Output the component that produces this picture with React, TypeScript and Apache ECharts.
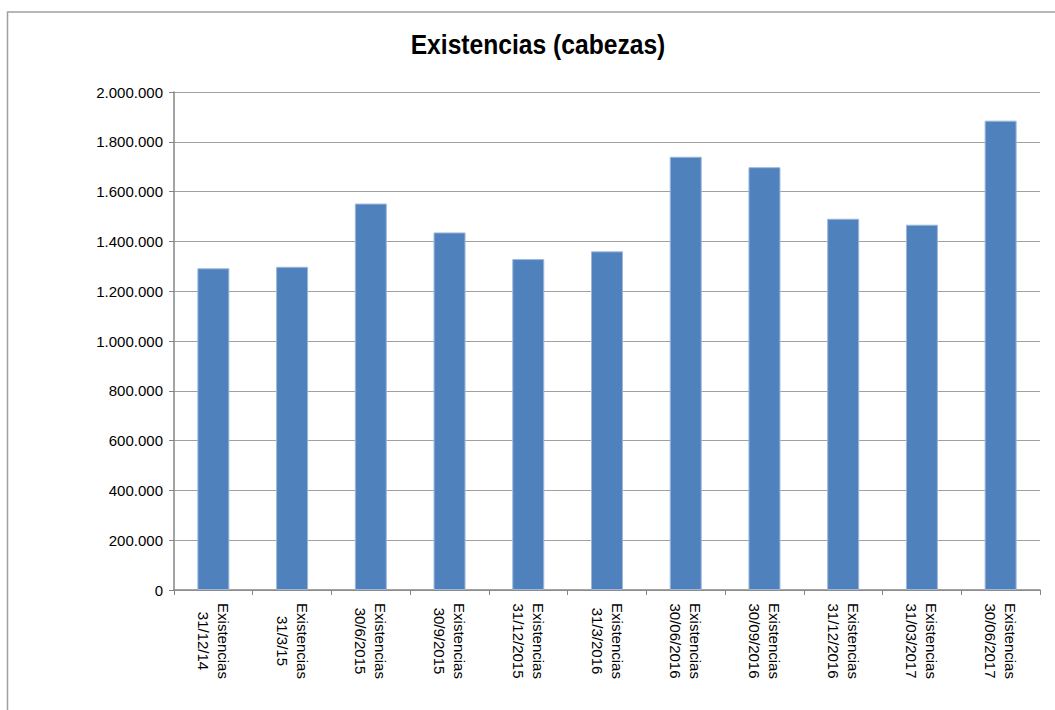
import React, { useEffect, useRef } from "react";
import * as echarts from "echarts";

const categories: string[] = [
  "Existencias\n31/12/14",
  "Existencias\n31/3/15",
  "Existencias\n30/6/2015",
  "Existencias\n30/9/2015",
  "Existencias\n31/12/2015",
  "Existencias\n31/3/2016",
  "Existencias\n30/06/2016",
  "Existencias\n30/09/2016",
  "Existencias\n31/12/2016",
  "Existencias\n31/03/2017",
  "Existencias\n30/06/2017",
];

const values: number[] = [
  1292000, 1298000, 1552000, 1436000, 1329000, 1360000, 1740000, 1698000,
  1491000, 1467000, 1885000,
];

const title = "Existencias (cabezas)";
const yMin = 0;
const yMax = 2000000;
const yStep = 200000;

const fmtThousands = (v: number): string =>
  String(Math.round(v)).replace(/\B(?=(\d{3})+(?!\d))/g, ".");

export default function App() {
  const ref = useRef<HTMLDivElement>(null);

  useEffect(() => {
    if (!ref.current) return;
    const chart = echarts.init(ref.current, null, { renderer: "svg" });
    const font = "Liberation Sans";
    chart.setOption({
      animation: false,
      backgroundColor: "#ffffff",
      graphic: [
        {
          type: "rect",
          shape: { x: 7.5, y: 12, width: 2000, height: 2000 },
          style: { fill: "none", stroke: "#a0a0a0", lineWidth: 1.5 },
          silent: true,
        },
        {
          type: "text",
          x: 538,
          y: 44,
          scaleX: 0.88,
          style: {
            text: title,
            fontFamily: font,
            fontWeight: "bold",
            fontSize: 28,
            fill: "#000000",
            align: "center",
            verticalAlign: "middle",
          },
        },
      ],
      grid: { left: 174, right: 15, top: 92, bottom: 120, containLabel: false },
      xAxis: {
        type: "category",
        data: categories,
        boundaryGap: true,
        axisLine: { lineStyle: { color: "#868686", width: 1.5 } },
        axisTick: { show: true, length: 5, alignWithLabel: false, lineStyle: { color: "#868686" } },
        axisLabel: {
          interval: 0,
          rotate: -90,
          margin: 11,
          color: "#000000",
          fontFamily: font,
          fontSize: 15,
          formatter: (v: string) =>
            v
              .split("\n")
              .map((s) => "{a|" + s + "}")
              .join("\n"),
          rich: {
            a: {
              width: 80,
              align: "center",
              fontFamily: font,
              fontSize: 15,
              lineHeight: 20,
              color: "#000000",
            },
          },
        },
      },
      yAxis: {
        type: "value",
        min: yMin,
        max: yMax,
        interval: yStep,
        axisLine: { show: true, lineStyle: { color: "#868686", width: 1.5 } },
        axisTick: { show: true, length: 5, lineStyle: { color: "#868686" } },
        axisLabel: {
          margin: 11,
          color: "#000000",
          fontFamily: font,
          fontSize: 15,
          formatter: (v: number) => fmtThousands(v),
        },
        splitLine: { show: true, lineStyle: { color: "#a0a0a0", width: 1.2 } },
      },
      series: [
        {
          type: "bar",
          data: values,
          barWidth: 32,
          itemStyle: {
            color: "#4f81bd",
            borderColor: "#9fb8da",
            borderWidth: 1,
          },
        },
      ],
    });
    return () => chart.dispose();
  }, []);

  return (
    <div
      ref={ref}
      style={{ position: "absolute", left: 0, top: 0, width: 1055, height: 710 }}
    />
  );
}
